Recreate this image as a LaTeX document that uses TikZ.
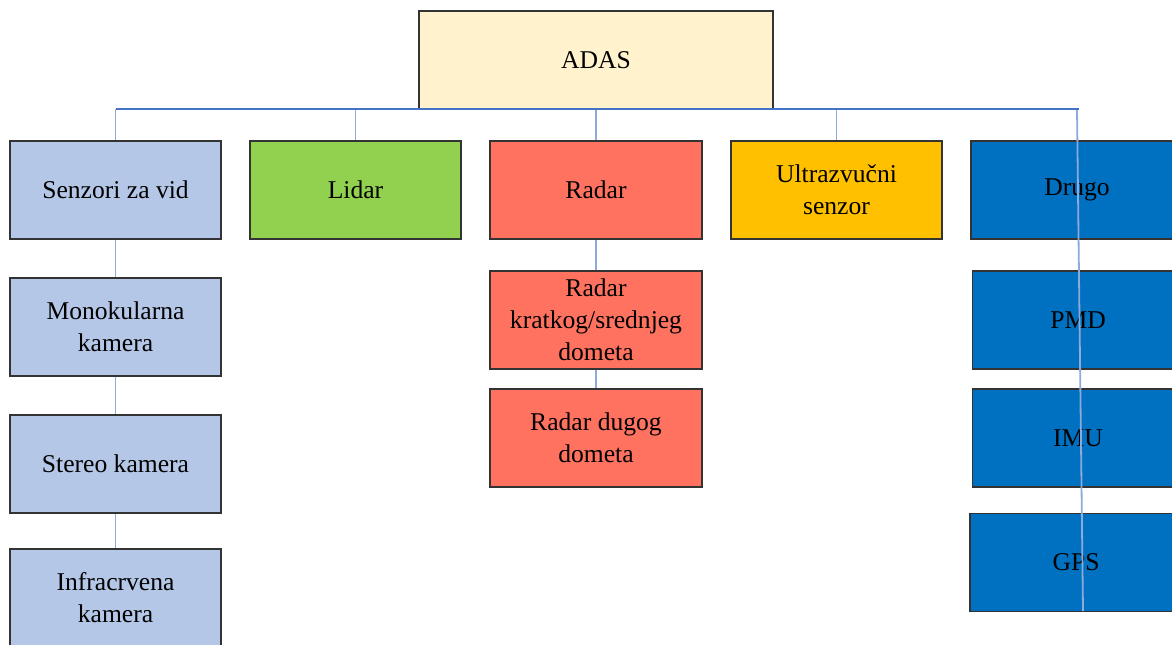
\documentclass[tikz,border=0pt]{standalone}
\usepackage{fontspec}
\setmainfont{Liberation Serif}
\definecolor{adasfill}{HTML}{FFF2CC}
\definecolor{visfill}{HTML}{B4C7E7}
\definecolor{lidfill}{HTML}{92D050}
\definecolor{radfill}{HTML}{FF7260}
\definecolor{ultfill}{HTML}{FFC000}
\definecolor{othfill}{HTML}{0070C0}
\definecolor{edge}{HTML}{333333}
\definecolor{stem}{HTML}{8EA9DB}
\definecolor{bar}{HTML}{4472C4}
\begin{document}
\begin{tikzpicture}[x=0.5pt,y=-0.5pt,
  box/.style={draw=edge, line width=0.55pt, minimum width=105.5pt, minimum height=49pt,
    inner sep=0pt, align=center, font=\fontsize{12.8}{16}\selectfont},
  stemline/.style={draw=stem, line width=0.9pt},
  barline/.style={draw=bar, line width=0.6pt}]
\useasboundingbox (0,0) rectangle (1172,644);
\node[box, fill=adasfill, minimum width=177pt] (adas) at (596,60) {ADAS};
\node[box, fill=visfill] (senz) at (115.5,190) {Senzori za vid};
\node[box, fill=lidfill] (lidar) at (355.5,190) {Lidar};
\node[box, fill=radfill, minimum width=106pt] (radar) at (596,190) {Radar};
\node[box, fill=ultfill] (ultra) at (836.5,190) {Ultrazvučni\\senzor};
\node[box, fill=othfill, minimum width=106pt] (drugo) at (1077,190) {Drugo};
\node[box, fill=visfill] (mono) at (115.5,327) {Monokularna\\kamera};
\node[box, fill=visfill] (stereo) at (115.5,464) {Stereo kamera};
\node[box, fill=visfill] (infra) at (115.5,598) {Infracrvena\\kamera};
\node[box, fill=radfill, minimum width=106pt] (rks) at (596,320) {Radar\\kratkog/srednjeg\\dometa};
\node[box, fill=radfill, minimum width=106pt] (rdd) at (596,438) {Radar dugog\\dometa};
\node[box, fill=othfill] (pmd) at (1078,320) {PMD};
\node[box, fill=othfill] (imu) at (1078,438) {IMU};
\node[box, fill=othfill, minimum width=106pt] (gps) at (1076,562.5) {GPS};
\coordinate (barL) at (116,109);
\coordinate (barR) at (1079,109);
\coordinate (rtop) at (1077,109);
\coordinate (rbot) at (1083,611);
% stems from bar to first level
\draw[stemline] (senz.north |- barL) -- (senz.north);
\draw[stemline] (lidar.north |- barL) -- (lidar.north);
\draw[stemline] (radar.north |- barL) -- (radar.north);
\draw[stemline] (ultra.north |- barL) -- (ultra.north);
% vertical chains
\draw[stemline] (senz.south) -- (mono.north);
\draw[stemline] (mono.south) -- (stereo.north);
\draw[stemline] (stereo.south) -- (infra.north);
\draw[stemline] (radar.south) -- (rks.north);
\draw[stemline] (rks.south) -- (rdd.north);
\draw[stemline] (rtop) -- (rbot);
% horizontal bar
\draw[barline] (barL) -- (barR);
\end{tikzpicture}
\end{document}
